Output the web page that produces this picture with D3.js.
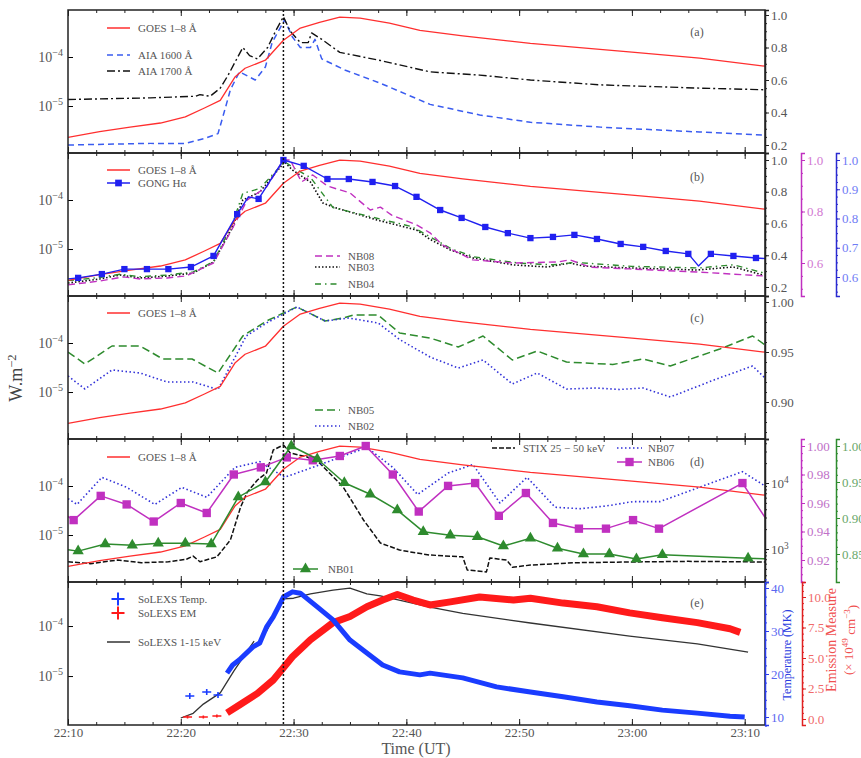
<!DOCTYPE html>
<html>
<head>
<meta charset="utf-8">
<script src="https://cdn.jsdelivr.net/npm/d3@7"></script>
<style>
body { margin: 0; background: #fff; }
text { font-family: "Liberation Serif", "DejaVu Serif", serif; }
</style>
</head>
<body>
<div id="chart"></div>
<script>
// times are minutes after 22:00 UT

// GOES 1-8 A flux (W m^-2), shared by panels a-d
var goesT = [10, 12.8, 15.5, 18.2, 20.4, 22.1, 23.5, 24.8, 25.7, 27.5, 29.1, 30.6, 32.3, 34.1, 35.9, 38.5, 41.2, 45, 51, 60, 66, 71.8];
var goesF = [2.3e-6, 3.0e-6, 3.7e-6, 4.5e-6, 6.0e-6, 9.1e-6, 1.3e-5, 3.9e-5, 5.9e-5, 8.6e-5, 2.2e-4, 3.9e-4, 5.1e-4, 6.5e-4, 6.2e-4, 4.9e-4, 3.5e-4, 2.7e-4, 1.9e-4, 1.26e-4, 9.5e-5, 6.5e-5];

// panel a: AIA normalised
var aia1600T = [10, 17.3, 20.4, 22.1, 23.3, 23.9, 24.4, 25.2, 26.6, 27.5, 28.1, 29.2, 29.9, 30.6, 31.5, 31.9, 32.5, 34.6, 37.7, 42.1, 46.5, 51, 57.2, 66, 71.8];
var aia1600V = [0.20, 0.21, 0.21, 0.24, 0.27, 0.415, 0.54, 0.65, 0.60, 0.68, 0.83, 0.97, 0.865, 0.80, 0.80, 0.85, 0.73, 0.66, 0.58, 0.45, 0.385, 0.34, 0.31, 0.28, 0.26];
var aia1700T = [10, 17.3, 21.3, 21.7, 22.6, 23.5, 24.2, 25.5, 26.1, 26.8, 27.7, 28.4, 29.1, 29.7, 30.6, 31.3, 31.6, 32.5, 34.1, 37.7, 42.1, 46.5, 51, 57.2, 66, 71.8];
var aia1700V = [0.48, 0.49, 0.50, 0.51, 0.50, 0.55, 0.63, 0.80, 0.75, 0.73, 0.80, 0.90, 0.99, 0.90, 0.83, 0.83, 0.89, 0.85, 0.77, 0.72, 0.65, 0.63, 0.60, 0.57, 0.55, 0.54];

// panel b
var gongT = [9, 10.9, 13, 15, 17, 18.9, 20.9, 22.9, 25, 26, 26.9, 29.1, 30.9, 33, 34.9, 37, 39, 40.9, 43, 44.9, 47, 49, 51, 53, 54.9, 56.9, 59, 61, 63, 65, 65.9, 67, 69, 71, 73];
var gongV = [0.59, 0.597, 0.61, 0.627, 0.627, 0.627, 0.634, 0.672, 0.815, 0.874, 0.867, 1.0, 0.98, 0.935, 0.935, 0.925, 0.911, 0.874, 0.829, 0.802, 0.771, 0.75, 0.733, 0.737, 0.744, 0.73, 0.713, 0.703, 0.689, 0.679, 0.638, 0.679, 0.672, 0.665, 0.66];
var gongNoMark = [26, 65.9];
var nb08T = [10, 12.8, 14.9, 16.4, 18.8, 20.5, 22.9, 24.6, 25.9, 27.6, 29.1, 29.7, 30.7, 31.7, 33, 35, 36.8, 37.7, 38.7, 40.9, 42.1, 43.2, 45.9, 49.5, 53.4, 54.5, 56.3, 59.8, 65.8, 71.6];
var nb08V = [0.515, 0.53, 0.546, 0.538, 0.542, 0.55, 0.6, 0.736, 0.845, 0.895, 1.0, 1.0, 0.915, 0.942, 0.899, 0.872, 0.806, 0.817, 0.786, 0.748, 0.717, 0.67, 0.612, 0.6, 0.604, 0.612, 0.584, 0.577, 0.565, 0.55];
var nb03T = [10, 12.8, 14.6, 16.4, 18.8, 21.1, 22.9, 24.6, 25.5, 27, 29.2, 29.9, 31.5, 32.6, 33.5, 37.4, 40.9, 42.1, 43.9, 45.9, 49.5, 52.5, 54.5, 55.7, 59.8, 65.8, 69, 71.6];
var nb03V = [0.225, 0.25, 0.276, 0.257, 0.269, 0.288, 0.357, 0.578, 0.748, 0.798, 0.987, 0.937, 0.861, 0.729, 0.704, 0.622, 0.559, 0.5, 0.433, 0.383, 0.339, 0.326, 0.351, 0.332, 0.32, 0.307, 0.326, 0.276];
var nb04T = [10, 12.8, 14.6, 16.4, 18.8, 21.1, 22.9, 24.6, 25.5, 27, 29.2, 30, 31.5, 33.5, 37, 40.5, 44, 46, 50, 53, 55, 60, 66, 69, 71.6];
var nb04V = [0.24, 0.26, 0.28, 0.265, 0.275, 0.295, 0.36, 0.6, 0.79, 0.82, 0.99, 0.95, 0.89, 0.70, 0.64, 0.58, 0.44, 0.39, 0.35, 0.34, 0.355, 0.33, 0.32, 0.34, 0.29];

// panel c
var nb05T = [10, 11.5, 13.9, 16.4, 18.4, 21, 23.3, 25.5, 27.6, 29.1, 30.3, 32.8, 34.4, 35.3, 37.5, 39.4, 42.1, 44.6, 46.8, 49.4, 51.6, 54.2, 58.3, 61, 63.4, 67.8, 70.7, 71.8];
var nb05V = [0.95, 0.938, 0.956, 0.956, 0.943, 0.943, 0.929, 0.966, 0.981, 0.989, 0.995, 0.981, 0.984, 0.987, 0.987, 0.969, 0.964, 0.955, 0.966, 0.942, 0.951, 0.94, 0.9375, 0.943, 0.936, 0.953, 0.966, 0.957];
var nb02T = [10, 11.5, 13.9, 16.4, 18.8, 21.1, 23.3, 25.8, 27.6, 29.1, 30.3, 32.8, 34.9, 37.5, 39.4, 42.1, 44.6, 46.8, 49.4, 51.6, 54.2, 56.9, 58.9, 61, 63.4, 67.5, 70.7, 71.8];
var nb02V = [0.926, 0.913, 0.932, 0.929, 0.92, 0.92, 0.9125, 0.966, 0.979, 0.988, 0.995, 0.981, 0.984, 0.979, 0.9625, 0.945, 0.934, 0.942, 0.918, 0.929, 0.913, 0.914, 0.9125, 0.914, 0.905, 0.923, 0.936, 0.924];

// panel d
var nb06T = [8.2, 10.5, 12.9, 15.2, 17.6, 20, 22.3, 24.7, 27.1, 29.4, 31.7, 34.1, 36.4, 38.8, 41.1, 43.7, 46.1, 48.2, 50.6, 53, 55.3, 57.7, 60.1, 62.4, 69.8, 72.2];
var nb06V = [0.959, 0.948, 0.965, 0.959, 0.947, 0.96, 0.953, 0.98, 0.985, 0.992, 0.99, 0.993, 1.0, 0.98, 0.954, 0.972, 0.974, 0.951, 0.967, 0.946, 0.942, 0.942, 0.948, 0.942, 0.974, 0.945];
var nb07T = [10, 10.8, 13, 15.2, 17.7, 20.1, 22.3, 24.8, 27, 29.2, 31.7, 34.1, 36.5, 38.8, 41, 43.7, 45.9, 48.3, 50.7, 53.2, 55.4, 57.8, 60.1, 62.5, 69.8, 72.2];
var nb07V = [0.963, 0.959, 0.978, 0.971, 0.959, 0.971, 0.964, 0.985, 0.989, 0.978, 0.985, 0.992, 0.999, 0.985, 0.966, 0.981, 0.987, 0.96, 0.978, 0.957, 0.956, 0.958, 0.961, 0.961, 0.982, 0.97];
var nb01T = [8.2, 10.9, 13.3, 15.7, 18, 20.4, 22.7, 25.1, 27.5, 29.8, 32.1, 34.5, 36.8, 39.2, 41.5, 43.9, 46.3, 48.6, 51, 53.4, 55.7, 58, 60.4, 62.7, 70.3, 72.6];
var nb01V = [0.86, 0.854, 0.864, 0.862, 0.865, 0.865, 0.864, 0.929, 0.95, 1.0, 0.982, 0.949, 0.933, 0.911, 0.881, 0.876, 0.874, 0.861, 0.872, 0.858, 0.85, 0.85, 0.843, 0.849, 0.844, 0.843];
var stixT = [10, 12, 14.4, 16.5, 18.9, 20.5, 21.1, 21.7, 23.2, 24.4, 25.3, 25.9, 26.8, 27.6, 28.2, 29.1, 29.7, 31.2, 32.3, 34.4, 36.2, 37.7, 39.4, 40.9, 42.1, 45, 45.4, 47.1, 47.4, 48.9, 49.4, 51, 55, 59.8, 65, 71.8];
var stixC = [640, 600, 680, 620, 640, 700, 780, 640, 760, 1370, 4300, 7300, 11100, 14200, 31600, 37700, 28500, 24800, 20100, 8700, 2750, 1230, 965, 870, 810, 760, 480, 450, 730, 680, 530, 570, 620, 635, 650, 635];

// panel e: SoLEXS
var solexsT = [20, 21.1, 22, 23.5, 24.7, 25.6, 26.5, 27, 27.6, 29.1, 30, 31.5, 33.5, 35, 36.5, 37.7, 42.1, 45, 51, 59.8, 65.8, 70.3];
var solexsF = [1.45e-6, 1.8e-6, 2.75e-6, 4.6e-6, 1.26e-5, 2.5e-5, 5.0e-5, null, 7.9e-5, 3.5e-4, 3.6e-4, 4.4e-4, 5.25e-4, 5.75e-4, 4.4e-4, 4.0e-4, 2.4e-4, 1.8e-4, 1.15e-4, 6.3e-5, 4.4e-5, 3.0e-5];
var tempT = [24.1, 24.6, 25.2, 26.4, 27, 27.6, 28.2, 29.1, 29.9, 30.6, 32.1, 33.5, 35, 36.5, 37.9, 39.4, 41.2, 42.1, 45, 48, 51, 53.9, 56.9, 59.8, 62.7, 65.8, 68.7, 70];
var tempV = [20.2, 22.1, 23.3, 26.3, 27.2, 30.9, 33.3, 37.9, 39.1, 38.8, 35.6, 32.6, 27.9, 24.9, 22.1, 20.5, 19.8, 20.2, 19.1, 17.0, 15.8, 14.7, 13.5, 12.6, 11.6, 10.9, 10.2, 10.0];
var tempSparseT = [20.8, 22.3, 23.3];
var tempSparseV = [14.9, 15.8, 15.1];
var emT = [24.1, 25.2, 26.8, 28.2, 29.1, 29.9, 31.5, 33.5, 35, 36.5, 37.9, 39.2, 40.6, 42.1, 43.9, 46.5, 49.5, 51, 53.9, 56.9, 59.8, 62.7, 65.8, 68.7, 69.6];
var emV = [0.5, 1.15, 2.1, 3.2, 4.2, 5.1, 6.5, 7.9, 8.4, 9.2, 9.75, 10.2, 9.75, 9.35, 9.6, 10.0, 9.75, 9.9, 9.5, 9.2, 8.7, 8.3, 7.9, 7.4, 7.1];
var emSparseT = [20.6, 22.0, 23.2];
var emSparseV = [0.16, 0.16, 0.25];

var flareTime = 29.1;

// ---------- layout ----------
var svgWidth = 861, svgHeight = 758;
var left = 68, panelW = 697, panelH = 143;
var tops = [10, 153, 296, 439, 582];

var red = "#ff2f2f", magenta = "#c030c0", green = "#2e8b2e", gray = "#555";

var svg = d3.select("#chart").append("svg")
  .attr("width", svgWidth)
  .attr("height", svgHeight);

var x = d3.scaleLinear().domain([10, 71.8]).range([0, panelW]);
var yFlux = d3.scaleLog().domain([1.1e-6, 9.1e-4]).range([panelH, 0]);
var yFluxE = d3.scaleLog().domain([1.05e-6, 7.6e-4]).range([panelH, 0]);

function fmtTime(m) {
  var h = 22 + Math.floor(m / 60), mm = m % 60;
  return h + ":" + (mm < 10 ? "0" : "") + mm;
}

// linear/log scale through two reference points, stretched over the panel
function fitScale(kind, v1, y1, v2, y2) {
  var s = kind().domain([v1, v2]).range([y1, y2]);
  return s.domain([s.invert(panelH), s.invert(0)]).range([panelH, 0]);
}

function steps(a, b, s) {
  var out = [];
  for (var k = 0; a + k * s <= b + 1e-9; k++) out.push(+(a + k * s).toFixed(4));
  return out;
}

function powTicks(sel) {
  sel.selectAll(".tick text").each(function(d) {
    var e = Math.round(Math.log10(d));
    var t = d3.select(this).text("10");
    t.append("tspan").attr("dy", "-0.55em").attr("font-size", "0.72em")
      .text(e < 0 ? "\u2212" + (-e) : e);
  });
}

function makePanel(i, yLeft, label, labelY) {
  var g = svg.append("g").attr("transform", `translate(${left}, ${tops[i]})`);
  g.append("clipPath").attr("id", "clip" + i)
    .append("rect").attr("width", panelW).attr("height", panelH);

  var plot = g.append("g").attr("clip-path", `url(#clip${i})`);

  // x ticks, inward on both edges
  var minor = steps(10, 70, 2.5);
  var major = steps(10, 70, 10);
  [[d3.axisBottom, panelH], [d3.axisTop, 0]].forEach(function(p) {
    g.append("g").attr("transform", `translate(0, ${p[1]})`)
      .call(p[0](x).tickValues(minor).tickSize(-3).tickFormat(""))
      .call(a => a.select(".domain").remove());
    var maj = g.append("g").attr("transform", `translate(0, ${p[1]})`)
      .call(p[0](x).tickValues(major).tickSize(-6).tickPadding(3)
        .tickFormat(i === 4 && p[1] === panelH ? fmtTime : ""))
      .call(a => a.select(".domain").remove());
    maj.selectAll("text").attr("font-size", 13).attr("fill", gray)
      .attr("font-family", "Liberation Serif, serif");
  });
  g.selectAll(".tick line").attr("stroke", "#222");

  // left log axis
  var ya = g.append("g")
    .call(d3.axisLeft(yLeft).tickValues([1e-5, 1e-4]).tickSize(-5).tickPadding(5))
    .call(a => a.select(".domain").remove());
  ya.selectAll("text").attr("font-size", 14).attr("fill", gray)
    .attr("font-family", "Liberation Serif, serif");
  powTicks(ya);

  g.append("rect").attr("width", panelW).attr("height", panelH)
    .attr("fill", "none").attr("stroke", "#222").attr("stroke-width", 1.5);

  g.append("text").attr("x", 629).attr("y", labelY)
    .attr("text-anchor", "middle").attr("dy", "0.35em")
    .attr("font-family", "DejaVu Sans, sans-serif").attr("font-size", 12)
    .attr("fill", gray).text(label);

  return {g: g, plot: plot};
}

function rightAxis(i, xPos, scale, major, minor, fmt, lineColor, textColor) {
  var g = svg.append("g").attr("transform", `translate(${xPos}, ${tops[i]})`);
  g.append("g").call(d3.axisRight(scale).tickValues(minor).tickSize(2).tickFormat(""))
    .call(a => a.select(".domain").remove());
  var ma = g.append("g").call(d3.axisRight(scale).tickValues(major).tickSize(4).tickPadding(2)
    .tickFormat(fmt || ""));
  ma.select(".domain").attr("stroke", lineColor).attr("stroke-width", 1.5);
  g.selectAll(".tick line").attr("stroke", lineColor);
  ma.selectAll("text").attr("fill", textColor).attr("font-size", 13)
    .attr("font-family", "Liberation Serif, serif");
  return ma;
}

function addLine(g, T, V, y, color, width, dash) {
  var pts = T.map((t, k) => [t, V[k]]);
  var line = d3.line().defined(d => d[1] != null).x(d => x(d[0])).y(d => y(d[1]));
  return g.append("path").datum(pts)
    .attr("d", line)
    .attr("fill", "none")
    .attr("stroke", color)
    .attr("stroke-width", width)
    .attr("stroke-linejoin", "round")
    .attr("stroke-dasharray", dash || null);
}

function addMarkers(g, T, V, y, shape, size, color, skip) {
  var pts = T.map((t, k) => [t, V[k]]).filter(d => !(skip || []).includes(d[0]));
  g.selectAll(null).data(pts).enter().append("path")
    .attr("transform", d => `translate(${x(d[0])}, ${y(d[1])})`)
    .attr("d", d3.symbol().type(shape).size(size))
    .attr("fill", color);
}

function legendRow(g, x0, x1, y0, color, width, dash, marker, label, tx) {
  g.append("line").attr("x1", x0).attr("x2", x1).attr("y1", y0).attr("y2", y0)
    .attr("stroke", color).attr("stroke-width", width).attr("stroke-dasharray", dash || null);
  if (marker) {
    g.append("path").attr("transform", `translate(${(x0 + x1) / 2}, ${y0})`)
      .attr("d", d3.symbol().type(marker[0]).size(marker[1])).attr("fill", color);
  }
  g.append("text").attr("x", tx).attr("y", y0).attr("dy", "0.35em")
    .attr("font-size", 11).attr("fill", gray).text(label);
}

function crossPath(w, h) { return `M${-w / 2},0H${w / 2}M0,${-h / 2}V${h / 2}`; }

// ---------- panel a ----------
var pa = makePanel(0, yFlux, "(a)", 22);
var yA = fitScale(d3.scaleLinear, 1.0, 5, 0.2, 135);
rightAxis(0, left + panelW, yA, steps(0.2, 1, 0.2), steps(0.15, 1.0, 0.05), d3.format(".1f"), "#222", gray);
addLine(pa.plot, aia1600T, aia1600V, yA, "#3a5cf0", 1.5, "6,4");
addLine(pa.plot, aia1700T, aia1700V, yA, "#111", 1.4, "8,3,2,3");
addLine(pa.plot, goesT, goesF, yFlux, red, 1.3);
legendRow(pa.g, 39, 62, 18, red, 1.5, null, null, "GOES 1\u20138 \u00c5", 70);
legendRow(pa.g, 39, 62, 45, "#3a5cf0", 1.5, "6,4", null, "AIA 1600 \u00c5", 70);
legendRow(pa.g, 39, 62, 61, "#111", 1.4, "8,3,2,3", null, "AIA 1700 \u00c5", 70);

// ---------- panel b ----------
var pb = makePanel(1, yFlux, "(b)", 24);
var yB = fitScale(d3.scaleLinear, 1.0, 7, 0.2, 134);
var yBm = fitScale(d3.scaleLinear, 1.0, 7, 0.6, 110);
var yBb = fitScale(d3.scaleLinear, 1.0, 7, 0.6, 124);
rightAxis(1, left + panelW, yB, steps(0.2, 1, 0.2), steps(0.2, 1.0, 0.05), d3.format(".1f"), "#222", gray);
rightAxis(1, 801, yBm, [0.6, 0.8, 1.0], steps(0.5, 1.0, 0.05), d3.format(".1f"), magenta, "#d27ad2");
rightAxis(1, 836, yBb, steps(0.6, 1, 0.1), steps(0.55, 1.0, 0.025), d3.format(".1f"), "#2a2ad0", "#6f7cf5");
addLine(pb.plot, nb03T, nb03V, yB, "#111", 1.6, "1.5,2");
addLine(pb.plot, nb04T, nb04V, yB, green, 1.4, "6,4,1.5,4");
addLine(pb.plot, nb08T, nb08V, yBm, magenta, 1.4, "7,4");
addLine(pb.plot, goesT, goesF, yFlux, red, 1.3);
addLine(pb.plot, gongT, gongV, yBb, "#2020f0", 1.4);
addMarkers(pb.plot, gongT, gongV, yBb, d3.symbolSquare, 40, "#2020f0", gongNoMark);
legendRow(pb.g, 39, 62, 17, red, 1.5, null, null, "GOES 1\u20138 \u00c5", 70);
legendRow(pb.g, 39, 62, 30, "#2020f0", 1.5, null, [d3.symbolSquare, 45], "GONG H\u03b1", 70);
legendRow(pb.g, 247, 272, 103, magenta, 1.4, "7,4", null, "NB08", 280);
legendRow(pb.g, 247, 272, 114, "#111", 1.6, "1.5,2", null, "NB03", 280);
legendRow(pb.g, 247, 272, 131, green, 1.4, "6,4,1.5,4", null, "NB04", 280);

// ---------- panel c ----------
var pc = makePanel(2, yFlux, "(c)", 22);
var yC = fitScale(d3.scaleLinear, 1.0, 6, 0.9, 106);
rightAxis(2, left + panelW, yC, [0.9, 0.95, 1.0], steps(0.87, 1.0, 0.01), d3.format(".2f"), "#222", gray);
addLine(pc.plot, nb05T, nb05V, yC, green, 1.5, "8,4");
addLine(pc.plot, nb02T, nb02V, yC, "#3030d8", 1.6, "1.5,2.5");
addLine(pc.plot, goesT, goesF, yFlux, red, 1.3);
legendRow(pc.g, 39, 62, 17, red, 1.5, null, null, "GOES 1\u20138 \u00c5", 70);
legendRow(pc.g, 247, 272, 114, green, 1.5, "8,4", null, "NB05", 280);
legendRow(pc.g, 247, 272, 130, "#3030d8", 1.6, "1.5,2.5", null, "NB02", 280);

// ---------- panel d ----------
var pd = makePanel(3, yFlux, "(d)", 23);
var yDs = fitScale(d3.scaleLog, 1e4, 44, 1e3, 110);
var yDm = fitScale(d3.scaleLinear, 1.0, 7, 0.92, 121);
var yDg = fitScale(d3.scaleLinear, 1.0, 7, 0.85, 115);
var stixMinor = [300, 400, 500, 600, 700, 800, 900, 2000, 3000, 4000, 5000, 6000, 7000, 8000, 9000, 20000, 30000, 40000];
var sa = rightAxis(3, left + panelW, yDs, [1e3, 1e4], stixMinor, d3.format("d"), "#222", gray);
powTicks(sa);
rightAxis(3, 801, yDm, steps(0.92, 1.0, 0.02), steps(0.905, 1.0, 0.005), d3.format(".2f"), magenta, "#c070c8");
rightAxis(3, 836, yDg, steps(0.85, 1.0, 0.05), steps(0.83, 1.0, 0.01), d3.format(".2f"), green, "#6aa86a");
addLine(pd.plot, stixT, stixC, yDs, "#111", 1.5, "5,2");
addLine(pd.plot, nb07T, nb07V, yDm, "#3030d8", 1.6, "1.5,2.5");
addLine(pd.plot, goesT, goesF, yFlux, red, 1.3);
addLine(pd.plot, nb06T, nb06V, yDm, magenta, 1.5);
addMarkers(pd.plot, nb06T, nb06V, yDm, d3.symbolSquare, 70, magenta);
addLine(pd.plot, nb01T, nb01V, yDg, green, 1.5);
addMarkers(pd.plot, nb01T, nb01V, yDg, d3.symbolTriangle, 55, green);
legendRow(pd.g, 39, 62, 18, red, 1.5, null, null, "GOES 1\u20138 \u00c5", 70);
legendRow(pd.g, 424, 447, 9, "#111", 1.5, "5,2", null, "STIX 25 \u2212 50 keV", 455);
legendRow(pd.g, 549, 574, 9, "#3030d8", 1.6, "1.5,2.5", null, "NB07", 580);
legendRow(pd.g, 549, 574, 23, magenta, 1.5, null, [d3.symbolSquare, 70], "NB06", 580);
legendRow(pd.g, 225, 250, 130, green, 1.5, null, [d3.symbolTriangle, 55], "NB01", 260);

// ---------- panel e ----------
var pe = makePanel(4, yFluxE, "(e)", 21);
var yT = fitScale(d3.scaleLinear, 40, 6, 10, 135);
var yEM = fitScale(d3.scaleLinear, 10, 15, 0, 137);
rightAxis(4, left + panelW, yT, [10, 20, 30, 40], steps(8, 42, 2), d3.format("d"), "#2a3cf0", "#5a68f0");
rightAxis(4, 802, yEM, steps(0, 10, 2.5), steps(0, 11, 0.5), d3.format(".1f"), "#e02020", "#f06a6a");
addLine(pe.plot, solexsT, solexsF, yFluxE, "#333", 1.3);
addLine(pe.plot, emT, emV, yEM, "#ff1a1a", 7);
addLine(pe.plot, tempT, tempV, yT, "#1a3cff", 5);
pe.plot.selectAll(null).data(tempSparseT.map((t, k) => [t, tempSparseV[k]])).enter().append("path")
  .attr("transform", d => `translate(${x(d[0])}, ${yT(d[1])})`)
  .attr("d", crossPath(9, 6)).attr("stroke", "#1a3cff").attr("stroke-width", 1.6);
pe.plot.selectAll(null).data(emSparseT.map((t, k) => [t, emSparseV[k]])).enter().append("path")
  .attr("transform", d => `translate(${x(d[0])}, ${yEM(d[1])})`)
  .attr("d", crossPath(9, 3)).attr("stroke", "#ff1a1a").attr("stroke-width", 1.6);

[[17, "#1a3cff", "SoLEXS Temp."], [31, "#ff1a1a", "SoLEXS EM"]].forEach(function(r) {
  pe.g.append("path").attr("transform", `translate(50, ${r[0]})`)
    .attr("d", crossPath(13, 13)).attr("stroke", r[1]).attr("stroke-width", 2);
  pe.g.append("text").attr("x", 70).attr("y", r[0]).attr("dy", "0.35em")
    .attr("font-size", 11).attr("fill", gray).text(r[2]);
});
legendRow(pe.g, 39, 62, 60, "#333", 1.5, null, null, "SoLEXS 1-15 keV", 70);

// ---------- shared decorations ----------
svg.append("line")
  .attr("x1", left + x(flareTime)).attr("x2", left + x(flareTime))
  .attr("y1", tops[0]).attr("y2", tops[4] + panelH)
  .attr("stroke", "#111").attr("stroke-width", 1.5).attr("stroke-dasharray", "2,2");

svg.append("text")
  .attr("transform", "translate(22, 378) rotate(-90)")
  .attr("text-anchor", "middle").attr("font-size", 18).attr("fill", "#444")
  .text("W.m")
  .append("tspan").attr("dy", "-0.5em").attr("font-size", "0.7em").text("\u22122");

svg.append("text")
  .attr("x", 416).attr("y", 754).attr("text-anchor", "middle")
  .attr("font-size", 16).attr("fill", gray).text("Time (UT)");

svg.append("text")
  .attr("transform", "translate(791, 655) rotate(-90)")
  .attr("text-anchor", "middle").attr("font-family", "DejaVu Sans, sans-serif")
  .attr("font-size", 12).attr("fill", "#2a3ce0").text("Temperature (MK)");

svg.append("text")
  .attr("transform", "translate(836, 640) rotate(-90)")
  .attr("text-anchor", "middle").attr("font-size", 14).attr("fill", "#f05050")
  .text("Emission Measure");

var em2 = svg.append("text")
  .attr("transform", "translate(853, 640) rotate(-90)")
  .attr("text-anchor", "middle").attr("font-size", 13).attr("fill", "#f05050");
em2.append("tspan").text("(\u00d7 10");
em2.append("tspan").attr("dy", "-0.5em").attr("font-size", "0.7em").text("49");
em2.append("tspan").attr("dy", "0.5em").text(" cm");
em2.append("tspan").attr("dy", "-0.5em").attr("font-size", "0.7em").text("\u22123");
em2.append("tspan").attr("dy", "0.5em").text(")");
</script>
</body>
</html>
